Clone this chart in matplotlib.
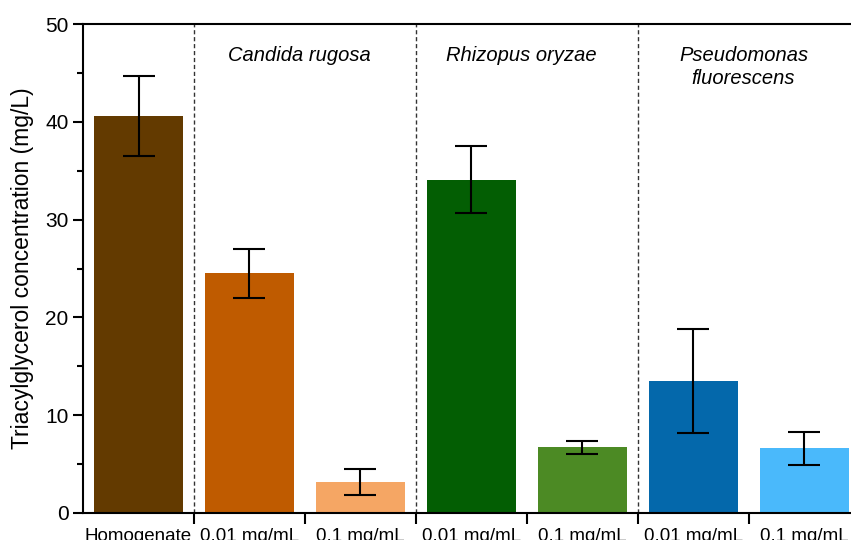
import numpy as np
import matplotlib
matplotlib.use('Agg')
import matplotlib.pyplot as plt
from matplotlib.ticker import MultipleLocator, FixedLocator

plt.rcParams['font.family'] = ['Liberation Sans', 'DejaVu Sans']

labels = ['Homogenate', '0.01 mg/mL', '0.1 mg/mL', '0.01 mg/mL', '0.1 mg/mL',
          '0.01 mg/mL', '0.1 mg/mL']
tag = [40.6, 24.5, 3.2, 34.1, 6.7, 13.5, 6.6]
tag_err = [4.05, 2.5, 1.35, 3.4, 0.65, 5.35, 1.7]
colors = ['#633a00', '#bf5b00', '#f5a664', '#035e03', '#4c8a24', '#0468ab', '#4ab9fb']
groups = ['Candida rugosa', 'Rhizopus oryzae', 'Pseudomonas\nfluorescens']

fig = plt.figure(figsize=(8.51, 5.4), dpi=100)
ax = fig.add_axes([83 / 851, 1 - 513 / 540, 777 / 851, 489 / 540])

x = np.arange(len(tag))
ax.bar(x, tag, width=0.8, color=colors, zorder=2)
ax.errorbar(x, tag, yerr=tag_err, fmt='none', ecolor='black', elinewidth=1.5,
            capsize=11.5, capthick=1.5, zorder=3)

# dashed separators between the homogenate and each lipase group
for sep in [0.5, 2.5, 4.5]:
    ax.axvline(sep, color='#333333', linestyle=(0, (3, 2)), linewidth=1, zorder=1)

for i, g in enumerate(groups):
    ax.text(1.45 + 2 * i, 47.8, g, ha='center', va='top', style='italic',
            fontsize=14.5, linespacing=1.3)

ax.set_xlim(-0.5, 6.5)
ax.set_ylim(0, 50)
ax.set_xticks(x)
ax.set_xticklabels(labels, fontsize=13.5)
ax.tick_params(axis='x', which='major', length=0, pad=11)
ax.xaxis.set_minor_locator(FixedLocator(np.arange(0.5, 6.5, 1)))
ax.tick_params(axis='x', which='minor', length=8, width=1.5, direction='out')

ax.yaxis.set_major_locator(MultipleLocator(10))
ax.yaxis.set_minor_locator(MultipleLocator(5))
ax.tick_params(axis='y', which='major', length=7, width=1.5, labelsize=15)
ax.tick_params(axis='y', which='minor', length=4, width=1.5)
ax.set_ylabel('Triacylglycerol concentration (mg/L)', fontsize=16.5, labelpad=8)

for s in ['left', 'bottom', 'top', 'right']:
    ax.spines[s].set_linewidth(1.5)

fig.savefig('out.png', dpi=100)
